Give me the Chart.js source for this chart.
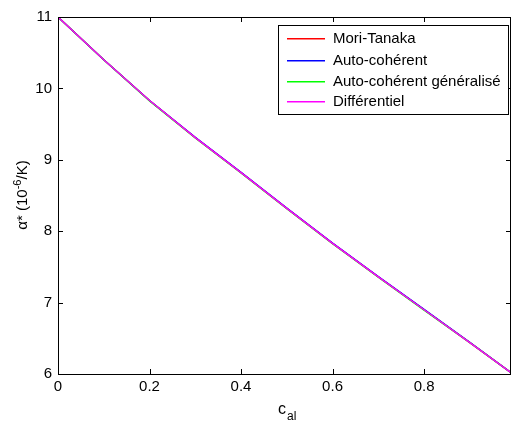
<!DOCTYPE html>
<html><head><meta charset="utf-8">
<script src="https://cdn.jsdelivr.net/npm/chart.js@4.4.0/dist/chart.umd.min.js"></script>
<style>html,body{margin:0;padding:0;background:#fff}#wrap{width:512px;height:423px}</style>
</head><body><div id="wrap"><canvas id="c" width="512" height="423"></canvas></div>
<script>
const cAl = [0, 0.1, 0.2, 0.3, 0.4, 0.5, 0.6, 0.7, 0.8, 0.9, 0.99];
const moriTanaka = [11.0, 10.40, 9.83, 9.31, 8.82, 8.32, 7.83, 7.36, 6.90, 6.44, 6.02];
const autoCoherent = [11.0, 10.40, 9.83, 9.315, 8.825, 8.325, 7.835, 7.365, 6.905, 6.445, 6.02];
const autoCoherentGen = [11.0, 10.40, 9.825, 9.305, 8.815, 8.315, 7.825, 7.355, 6.895, 6.44, 6.02];
const differentiel = [11.0, 10.40, 9.83, 9.31, 8.82, 8.32, 7.83, 7.36, 6.90, 6.44, 6.02];
const xTicks = [0, 0.2, 0.4, 0.6, 0.8];
const yTicks = [6, 7, 8, 9, 10, 11];
const seriesNames = ['Mori-Tanaka', 'Auto-cohérent', 'Auto-cohérent généralisé', 'Différentiel'];
const seriesColors = ['rgb(255,0,0)', 'rgb(0,0,255)', 'rgb(0,255,0)', 'rgb(255,0,255)'];
const seriesData = [moriTanaka, autoCoherent, autoCoherentGen, differentiel];

const FONT = '"Liberation Sans", Arial, sans-serif';

const datasets = seriesData.map((d, i) => ({
  label: seriesNames[i],
  data: cAl.map((x, j) => ({x: x, y: d[j]})),
  borderColor: seriesColors[i],
  backgroundColor: seriesColors[i],
  borderWidth: 1.4,
  pointRadius: 0,
  tension: 0,
  fill: false,
  order: seriesData.length - i
}));

const deco = {
  id: 'deco',
  afterDraw(chart) {
    const ctx = chart.ctx, a = chart.chartArea;
    const xs = chart.scales.x, ys = chart.scales.y;
    ctx.save();
    ctx.strokeStyle = '#000'; ctx.lineWidth = 1;
    ctx.strokeRect(Math.round(a.left) + 0.5, Math.round(a.top) + 0.5, Math.round(a.right - a.left) - 1, Math.round(a.bottom - a.top));
    ctx.beginPath();
    xTicks.forEach(v => {
      const px = Math.round(xs.getPixelForValue(v)) + 0.5;
      ctx.moveTo(px, a.bottom); ctx.lineTo(px, a.bottom - 5);
      ctx.moveTo(px, a.top); ctx.lineTo(px, a.top + 5);
    });
    yTicks.forEach(v => {
      const py = Math.round(ys.getPixelForValue(v)) + 0.5;
      ctx.moveTo(a.left, py); ctx.lineTo(a.left + 5, py);
      ctx.moveTo(a.right, py); ctx.lineTo(a.right - 5, py);
    });
    ctx.stroke();
    ctx.fillStyle = '#000';
    ctx.textBaseline = 'alphabetic';
    ctx.font = '16px ' + FONT;
    ctx.textAlign = 'left';
    ctx.fillText('c', 278, 414);
    ctx.font = '12px ' + FONT;
    ctx.fillText('al', 287, 420);
    ctx.save();
    ctx.translate(27, 195);
    ctx.rotate(-Math.PI / 2);
    const p1 = 'α* (10', p2 = '-6', p3 = '/K)';
    ctx.font = '15px ' + FONT; const w1 = ctx.measureText(p1).width;
    ctx.font = '11px ' + FONT; const w2 = ctx.measureText(p2).width;
    ctx.font = '15px ' + FONT; const w3 = ctx.measureText(p3).width;
    let sx = -(w1 + w2 + w3) / 2;
    ctx.fillText(p1, sx, 0); sx += w1;
    ctx.font = '11px ' + FONT; ctx.fillText(p2, sx, -6); sx += w2;
    ctx.font = '15px ' + FONT; ctx.fillText(p3, sx, 0);
    ctx.restore();
    const lx = 278.5, ly = 25.5, lw = 230, lh = 89;
    ctx.fillStyle = '#fff';
    ctx.fillRect(lx, ly, lw, lh);
    ctx.strokeStyle = '#000';
    ctx.strokeRect(lx, ly, lw, lh);
    ctx.font = '15px ' + FONT;
    ctx.textBaseline = 'middle';
    const rows = [38, 60, 81, 101];
    seriesNames.forEach((n, i) => {
      ctx.fillStyle = seriesColors[i];
      ctx.fillRect(287, rows[i], 38, 1.5);
      ctx.fillStyle = '#000';
      ctx.fillText(n, 333, rows[i] + 1);
    });
    ctx.restore();
  }
};

new Chart(document.getElementById('c'), {
  type: 'line',
  data: {datasets},
  options: {
    responsive: false,
    animation: false,
    layout: {padding: {top: 17, right: 1, left: 0, bottom: 0}},
    plugins: {legend: {display: false}, tooltip: {enabled: false}},
    scales: {
      x: {
        type: 'linear', min: 0, max: 0.99,
        grid: {display: false, drawTicks: false},
        border: {display: false},
        afterFit(s) { s.height = 49; },
        afterBuildTicks(s) { s.ticks = xTicks.map(v => ({value: v})); },
        ticks: {includeBounds: false, padding: 4, color: '#000', font: {family: FONT, size: 15},
          callback: v => String(v), maxRotation: 0}
      },
      y: {
        type: 'linear', min: 6, max: 11,
        grid: {display: false, drawTicks: false},
        border: {display: false},
        afterFit(s) { s.width = 58; },
        afterBuildTicks(s) { s.ticks = yTicks.map(v => ({value: v})); },
        ticks: {padding: 6, color: '#000', font: {family: FONT, size: 15}, callback: v => String(v)}
      }
    }
  },
  plugins: [deco]
});
</script></body></html>
